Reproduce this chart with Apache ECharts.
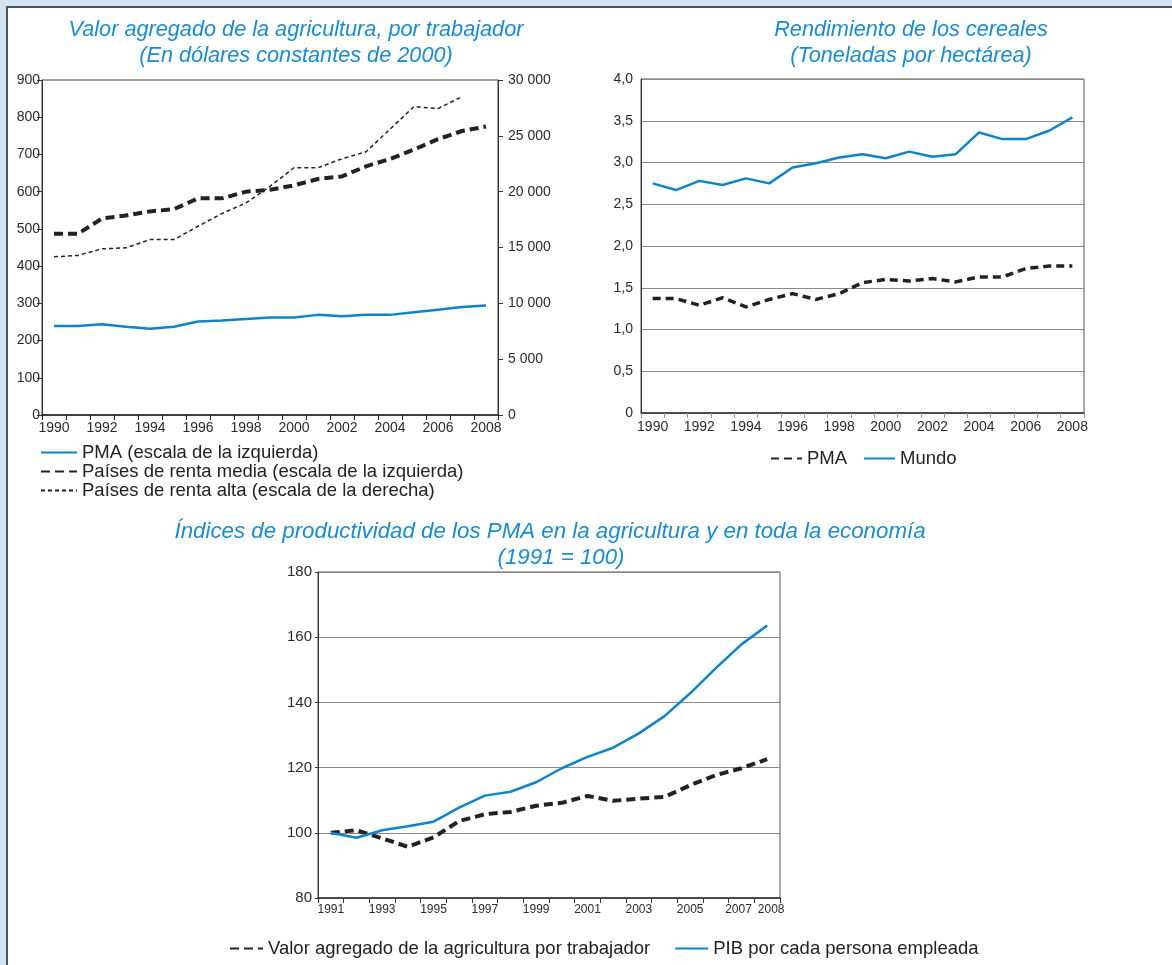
<!DOCTYPE html>
<html>
<head>
<meta charset="utf-8">
<script src="https://cdn.jsdelivr.net/npm/echarts@6/dist/echarts.min.js"></script>
<style>
html,body{margin:0;padding:0;width:1172px;height:965px;overflow:hidden;background:#d5e2f2;}
#frame{position:absolute;left:6px;top:6px;right:0;bottom:0;background:#fff;border-left:2px solid #4f545c;border-top:2px solid #4f545c;}
#chart{position:absolute;left:0;top:0;width:1172px;height:965px;}
</style>
</head>
<body>
<div id="frame"></div>
<div id="chart"></div>
<script>
// ---- Data ----
const years1 = ['1990','1991','1992','1993','1994','1995','1996','1997','1998','1999','2000','2001','2002','2003','2004','2005','2006','2007','2008'];
const pmaValor = [239,239,244,237,232,237,251,254,258,262,262,269,265,269,269,276,283,290,294];
const mediaValor = [487,487,528,536,547,553,582,582,600,605,617,634,641,668,688,713,741,763,775];
const altaValor = [14170,14290,14880,14970,15710,15710,16900,18040,18990,20480,22140,22140,22950,23570,25600,27620,27440,28510];

const years2 = years1;
const mundoCereal = [2.75,2.67,2.78,2.73,2.81,2.75,2.94,2.99,3.06,3.10,3.05,3.13,3.07,3.10,3.36,3.28,3.28,3.38,3.54];
const pmaCereal = [1.37,1.37,1.29,1.38,1.27,1.36,1.43,1.36,1.43,1.56,1.60,1.58,1.61,1.57,1.63,1.63,1.73,1.76,1.76];

const years3 = ['1991','1992','1993','1994','1995','1996','1997','1998','1999','2000','2001','2002','2003','2004','2005','2006','2007','2008'];
const agriIndice = [100,100.8,98.3,95.7,98.6,103.6,105.7,106.4,108.3,109.2,111.3,109.8,110.5,111,114.6,117.7,119.8,122.6];
const pibIndice = [100,98.5,100.8,102,103.4,107.7,111.4,112.6,115.5,119.8,123.3,126.1,130.5,135.8,142.8,150.5,157.8,163.6];

// ---- Styles ----
const BLUE = '#0f83c9';
const TITLE_BLUE = '#1b8bd0';
const FONT = 'Liberation Sans, Arial, sans-serif';
const LBL = {color:'#2b2b2b', fontSize:14, fontFamily:FONT};
const LEG_TXT = {fontSize:18.5, color:'#222', fontFamily:FONT};

function thousands(v){ return String(v).replace(/\B(?=(\d{3})+(?!\d))/g,' '); }
function comma(v){ return v === 0 ? '0' : v.toFixed(1).replace('.', ','); }

const chart = echarts.init(document.getElementById('chart'), null, {renderer:'canvas'});

const titleText = (txt, x, y, size) => ({
  type:'text', x:x, y:y,
  style:{text:txt, textAlign:'center', textVerticalAlign:'middle', fill:TITLE_BLUE,
         font:'italic ' + (size || 21.7) + 'px ' + FONT}
});

const option = {
  animation:false,
  backgroundColor:'transparent',
  textStyle:{fontFamily:FONT},
  graphic:[
    titleText('Valor agregado de la agricultura, por trabajador', 296, 30),
    titleText('(En dólares constantes de 2000)', 296, 56),
    titleText('Rendimiento de los cereales', 911, 30),
    titleText('(Toneladas por hectárea)', 911, 56),
    titleText('Índices de productividad de los PMA en la agricultura y en toda la economía', 550, 532, 22.3),
    titleText('(1991 = 100)', 561, 558, 22.3)
  ],
  grid:[
    {left:42, top:80, width:456, height:335, show:true, borderColor:'#444', borderWidth:1, containLabel:false},
    {left:641, top:79, width:443, height:334, show:true, borderColor:'#555', borderWidth:1, containLabel:false},
    {left:318, top:572, width:462, height:326, show:true, borderColor:'#555', borderWidth:1, containLabel:false}
  ],
  xAxis:[
    {gridIndex:0, type:'category', data:years1, boundaryGap:true,
     axisLine:{lineStyle:{color:'#222', width:1.5}},
     axisTick:{show:true, interval:0, length:5, lineStyle:{color:'#222'}},
     axisLabel:Object.assign({interval:1, margin:6}, LBL)},
    {gridIndex:1, type:'category', data:years2, boundaryGap:true,
     axisLine:{lineStyle:{color:'#333', width:1.5}},
     axisTick:{show:true, interval:0, length:5, lineStyle:{color:'#999'}},
     axisLabel:Object.assign({interval:1, margin:7}, LBL)},
    {gridIndex:2, type:'category', data:years3, boundaryGap:true,
     axisLine:{lineStyle:{color:'#333', width:1.5}},
     axisTick:{show:true, interval:0, length:5, lineStyle:{color:'#333'}},
     axisLabel:{color:'#2b2b2b', fontSize:12, fontFamily:FONT, margin:6,
       interval:function(i){ return i % 2 === 0 || i === years3.length - 1; },
       formatter:function(v){ if(v==='2007') return '{a|2007}'; if(v==='2008') return '{b|2008}'; return v; },
       rich:{a:{fontSize:12, color:'#2b2b2b', padding:[0,6,0,0]}, b:{fontSize:12, color:'#2b2b2b', padding:[0,0,0,8]}}}}
  ],
  yAxis:[
    {gridIndex:0, type:'value', min:0, max:900, interval:100, position:'left',
     axisLine:{show:true, lineStyle:{color:'#333'}},
     axisTick:{show:true, length:5, lineStyle:{color:'#333'}},
     splitLine:{show:false},
     axisLabel:Object.assign({margin:2}, LBL)},
    {gridIndex:0, type:'value', min:0, max:30000, interval:5000, position:'right',
     axisLine:{show:true, lineStyle:{color:'#333'}},
     axisTick:{show:true, length:5, lineStyle:{color:'#333'}},
     splitLine:{show:false},
     axisLabel:Object.assign({margin:10, formatter:thousands}, LBL)},
    {gridIndex:1, type:'value', min:0, max:4, interval:0.5,
     axisLine:{show:true, lineStyle:{color:'#333'}},
     axisTick:{show:false},
     splitLine:{show:true, lineStyle:{color:'#8a8a8a', width:1}},
     axisLabel:Object.assign({margin:8, formatter:comma}, LBL)},
    {gridIndex:2, type:'value', min:80, max:180, interval:20,
     axisLine:{show:true, lineStyle:{color:'#333'}},
     axisTick:{show:true, length:3, lineStyle:{color:'#333'}},
     splitLine:{show:true, lineStyle:{color:'#8a8a8a', width:1}},
     axisLabel:Object.assign({margin:6}, LBL, {fontSize:15})}
  ],
  legend:[
    {orient:'vertical', left:35, top:438, itemWidth:36, itemHeight:12, itemGap:0,
     itemStyle:{opacity:0}, textStyle:LEG_TXT,
     data:['PMA (escala de la izquierda)','Países de renta media (escala de la izquierda)','Países de renta alta (escala de la derecha)']},
    {orient:'horizontal', left:765, top:444, itemWidth:31, itemHeight:12, itemGap:16,
     itemStyle:{opacity:0}, textStyle:LEG_TXT,
     data:['PMA','Mundo']},
    {orient:'horizontal', left:224, top:934, itemWidth:33, itemHeight:12, itemGap:24,
     itemStyle:{opacity:0}, textStyle:LEG_TXT,
     data:['Valor agregado de la agricultura por trabajador','PIB por cada persona empleada']}
  ],
  series:[
    {name:'PMA (escala de la izquierda)', type:'line', xAxisIndex:0, yAxisIndex:0, data:pmaValor,
     symbol:'none', lineStyle:{color:BLUE, width:2.5}, itemStyle:{color:BLUE}},
    {name:'Países de renta media (escala de la izquierda)', type:'line', xAxisIndex:0, yAxisIndex:0, data:mediaValor,
     symbol:'none', lineStyle:{color:'#222', width:4, type:[9,5]}, itemStyle:{color:'#222'}},
    {name:'Países de renta alta (escala de la derecha)', type:'line', xAxisIndex:0, yAxisIndex:1, data:altaValor,
     symbol:'none', lineStyle:{color:'#222', width:1.5, type:[4,3]}, itemStyle:{color:'#222'}},
    {name:'PMA', type:'line', xAxisIndex:1, yAxisIndex:2, data:pmaCereal,
     symbol:'none', lineStyle:{color:'#222', width:3.5, type:[8,5]}, itemStyle:{color:'#222'}},
    {name:'Mundo', type:'line', xAxisIndex:1, yAxisIndex:2, data:mundoCereal,
     symbol:'none', lineStyle:{color:BLUE, width:2.5}, itemStyle:{color:BLUE}},
    {name:'Valor agregado de la agricultura por trabajador', type:'line', xAxisIndex:2, yAxisIndex:3, data:agriIndice,
     symbol:'none', lineStyle:{color:'#222', width:4, type:[9,5]}, itemStyle:{color:'#222'}},
    {name:'PIB por cada persona empleada', type:'line', xAxisIndex:2, yAxisIndex:3, data:pibIndice,
     symbol:'none', lineStyle:{color:BLUE, width:2.5}, itemStyle:{color:BLUE}}
  ]
};
chart.setOption(option);
</script>
</body>
</html>
